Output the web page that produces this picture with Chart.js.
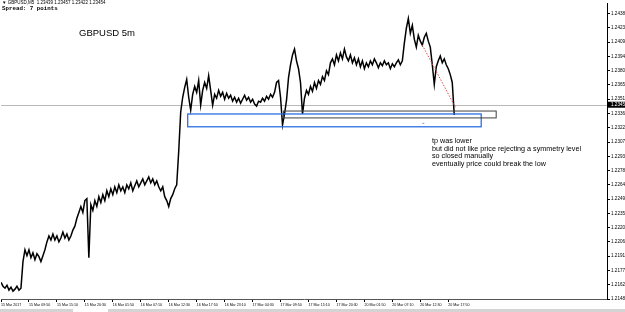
<!DOCTYPE html>
<html>
<head>
<meta charset="utf-8">
<script src="https://cdn.jsdelivr.net/npm/chart.js@4/dist/chart.umd.min.js"></script>
<style>
  html, body { margin: 0; padding: 0; background: #fff; }
  #wrap { width: 625px; height: 312px; position: relative; }
</style>
</head>
<body>
<div id="wrap"><canvas id="chart"></canvas></div>
<script>
// GBPUSD M5, one value every ~4.5 bars
const closes = [
  1.2165, 1.2161, 1.2159, 1.2162, 1.2157, 1.2160, 1.2156, 1.2158, 1.2161, 1.2157,
  1.2159, 1.2186, 1.2198, 1.2192, 1.2198, 1.2190, 1.2195, 1.2188, 1.2194, 1.2191,
  1.2186, 1.2192, 1.2198, 1.2206, 1.2212, 1.2208, 1.2214, 1.2208, 1.2212, 1.2206,
  1.2210, 1.2216, 1.2210, 1.2214, 1.2208, 1.2212, 1.2218, 1.2222, 1.2230, 1.2236,
  1.2242, 1.2236, 1.2248, 1.2250, 1.2190, 1.2244, 1.2238, 1.2248, 1.2242, 1.2252,
  1.2246, 1.2254, 1.2248, 1.2258, 1.2252, 1.2260, 1.2254, 1.2262, 1.2256, 1.2264,
  1.2258, 1.2262, 1.2256, 1.2264, 1.2260, 1.2266, 1.2258, 1.2263, 1.2268, 1.2262,
  1.2266, 1.2270, 1.2264, 1.2268, 1.2272, 1.2266, 1.2270, 1.2264, 1.2268, 1.2262,
  1.2258, 1.2262, 1.2252, 1.2248, 1.2242, 1.2250, 1.2254, 1.2260, 1.2264, 1.2298,
  1.2338, 1.2353, 1.2363, 1.2371, 1.2353, 1.2340, 1.2356, 1.2364, 1.2358, 1.2370,
  1.2345, 1.2360, 1.2368, 1.2362, 1.2375, 1.2360, 1.2345, 1.2356, 1.2352, 1.2360,
  1.2354, 1.2358, 1.2351, 1.2357, 1.2352, 1.2355, 1.2349, 1.2353, 1.2348, 1.2352,
  1.2347, 1.2351, 1.2355, 1.2350, 1.2353, 1.2348, 1.2351, 1.2346, 1.2344, 1.2349,
  1.2348, 1.2352, 1.2349, 1.2354, 1.2351, 1.2356, 1.2353, 1.2358, 1.2368, 1.2370,
  1.2353, 1.2325, 1.2336, 1.2350, 1.2373, 1.2386, 1.2396, 1.2402, 1.2390, 1.2382,
  1.2368, 1.2336, 1.2352, 1.2360, 1.2356, 1.2364, 1.2359, 1.2368, 1.2362, 1.2370,
  1.2366, 1.2374, 1.2370, 1.2380, 1.2376, 1.2388, 1.2392, 1.2386, 1.2396, 1.2390,
  1.2398, 1.2392, 1.2402, 1.2394, 1.2390, 1.2396, 1.2388, 1.2393, 1.2386, 1.2392,
  1.2384, 1.2390, 1.2382, 1.2388, 1.2384, 1.2390, 1.2386, 1.2392, 1.2388, 1.2383,
  1.2388, 1.2385, 1.2390, 1.2386, 1.2388, 1.2382, 1.2387, 1.2384, 1.2388, 1.2391,
  1.2386, 1.2390, 1.2408, 1.2423, 1.2433, 1.2418, 1.2426, 1.2412, 1.2404, 1.2416,
  1.2410, 1.2406, 1.2414, 1.2418, 1.2410, 1.2404, 1.2386, 1.2366, 1.2384, 1.2390,
  1.2395, 1.2388, 1.2392, 1.2386, 1.2382, 1.2376, 1.2368, 1.2335
];

const timeLabels = [
  "15 Mar 2017", "15 Mar 09:50", "15 Mar 15:10", "15 Mar 20:30", "16 Mar 01:50",
  "16 Mar 07:10", "16 Mar 12:30", "16 Mar 17:50", "16 Mar 23:10", "17 Mar 04:30",
  "17 Mar 09:50", "17 Mar 15:10", "17 Mar 20:30", "20 Mar 01:50", "20 Mar 07:10",
  "20 Mar 12:30", "20 Mar 17:50"
];
const labelEvery = 14;

const priceMin = 1.2148;
const priceMax = 1.2448;
const priceStep = 0.00145;
const priceTickCount = 21;

const lastPrice = 1.23454;
const headerText = "\u25BC GBPUSD,M5  1.23439 1.23457 1.23422 1.23454";
const spreadText = "Spread: 7 points";
const titleText = "GBPUSD 5m";
const noteLines = [
  "tp was lower",
  "but did not like price rejecting a symmetry level",
  "so closed manually",
  "eventually price could break the low"
];

// zones drawn on the chart, in [index, price] terms
const blueZone = { x1: 93.5, x2: 240.5, top: 1.2336, bottom: 1.2323 };
const greyZone = { x1: 141.5, x2: 248, top: 1.2339, bottom: 1.2332 };
const redLine = { x1: 211, y1: 1.2406, x2: 227.5, y2: 1.2343 };

const extras = {
  id: 'extras',
  beforeDatasetsDraw(chart) {
    const { ctx, chartArea, scales } = chart;
    const y = Math.round(scales.y.getPixelForValue(lastPrice)) + 0.5;
    ctx.save();
    ctx.strokeStyle = '#b8b8b8';
    ctx.lineWidth = 1;
    ctx.beginPath();
    ctx.moveTo(chartArea.left, y);
    ctx.lineTo(chartArea.right, y);
    ctx.stroke();
    ctx.restore();
  },
  afterDraw(chart) {
    const { ctx, chartArea, scales } = chart;
    const xs = scales.x, ys = scales.y;
    ctx.save();

    // zones
    ctx.lineWidth = 1.3;
    ctx.strokeStyle = '#2a6fe6';
    let x1 = xs.getPixelForValue(blueZone.x1), x2 = xs.getPixelForValue(blueZone.x2);
    let t = ys.getPixelForValue(blueZone.top), b = ys.getPixelForValue(blueZone.bottom);
    ctx.strokeRect(x1, t, x2 - x1, b - t);
    ctx.fillStyle = '#9090e0';
    ctx.fillRect(xs.getPixelForValue(211), ys.getPixelForValue(1.2327), 2, 1);

    ctx.lineWidth = 1;
    ctx.strokeStyle = '#404040';
    x1 = xs.getPixelForValue(greyZone.x1); x2 = xs.getPixelForValue(greyZone.x2);
    t = ys.getPixelForValue(greyZone.top); b = ys.getPixelForValue(greyZone.bottom);
    ctx.strokeRect(x1, t, x2 - x1, b - t);

    ctx.strokeStyle = '#e04848';
    ctx.setLineDash([1.5, 1.5]);
    ctx.beginPath();
    ctx.moveTo(xs.getPixelForValue(redLine.x1), ys.getPixelForValue(redLine.y1));
    ctx.lineTo(xs.getPixelForValue(redLine.x2), ys.getPixelForValue(redLine.y2));
    ctx.stroke();
    ctx.setLineDash([]);

    // current price tag on the axis
    const py = ys.getPixelForValue(lastPrice);
    ctx.fillStyle = '#000';
    ctx.fillRect(chartArea.right + 1, py - 3, 20, 6);
    ctx.fillStyle = '#fff';
    ctx.font = '4.6px "Liberation Sans"';
    ctx.textBaseline = 'middle';
    ctx.fillText(lastPrice.toFixed(5), chartArea.right + 4, py);

    // texts
    ctx.fillStyle = '#000';
    ctx.font = '4.5px "Liberation Sans"';
    ctx.fillText(headerText, 2, 3);
    ctx.font = 'bold 5.8px "Liberation Mono"';
    ctx.fillText(spreadText, 2, 9);
    ctx.font = '9.5px "Liberation Sans"';
    ctx.fillText(titleText, 79, 33);
    ctx.font = '7.2px "Liberation Sans"';
    noteLines.forEach((line, i) => ctx.fillText(line, 432, 141 + i * 7.6));

    // terminal tab strip
    ctx.fillStyle = '#d4d4d4';
    ctx.fillRect(0, 309, 625, 3);
    ctx.fillStyle = '#fff';
    ctx.fillRect(73, 309, 35, 3);
    ctx.restore();
  }
};

new Chart(document.getElementById('chart'), {
  type: 'line',
  data: {
    datasets: [{
      data: closes.map((p, i) => ({ x: i, y: p })),
      borderColor: '#000',
      borderWidth: 1.5,
      pointRadius: 0,
      tension: 0,
      fill: false
    }]
  },
  options: {
    responsive: true,
    maintainAspectRatio: false,
    animation: false,
    layout: { padding: 0 },
    plugins: { legend: { display: false }, tooltip: { enabled: false } },
    scales: {
      x: {
        type: 'linear',
        min: 0,
        max: 303.5,
        afterBuildTicks(scale) {
          scale.ticks = timeLabels.map((_, k) => ({ value: k * labelEvery }));
        },
        afterFit(scale) { scale.height = 13; },
        grid: { drawOnChartArea: false, color: '#000', tickLength: 3 },
        border: { color: '#555' },
        ticks: {
          autoSkip: false,
          maxRotation: 0,
          align: 'start',
          padding: 1,
          color: '#000',
          font: { size: 3.6, family: 'Liberation Sans' },
          callback: (v) => timeLabels[v / labelEvery] || ''
        }
      },
      y: {
        position: 'right',
        min: priceMin,
        max: priceMax,
        afterBuildTicks(scale) {
          const out = [];
          for (let k = 0; k < priceTickCount; k++) out.push({ value: priceMin + k * priceStep });
          scale.ticks = out;
        },
        afterFit(scale) { scale.width = 18; },
        grid: { drawOnChartArea: false, color: '#000', tickLength: 3 },
        border: { color: '#000' },
        ticks: {
          padding: 1,
          color: '#000',
          font: { size: 4.6, family: 'Liberation Sans' },
          callback: (v) => v.toFixed(5)
        }
      }
    }
  },
  plugins: [extras]
});
</script>
</body>
</html>
